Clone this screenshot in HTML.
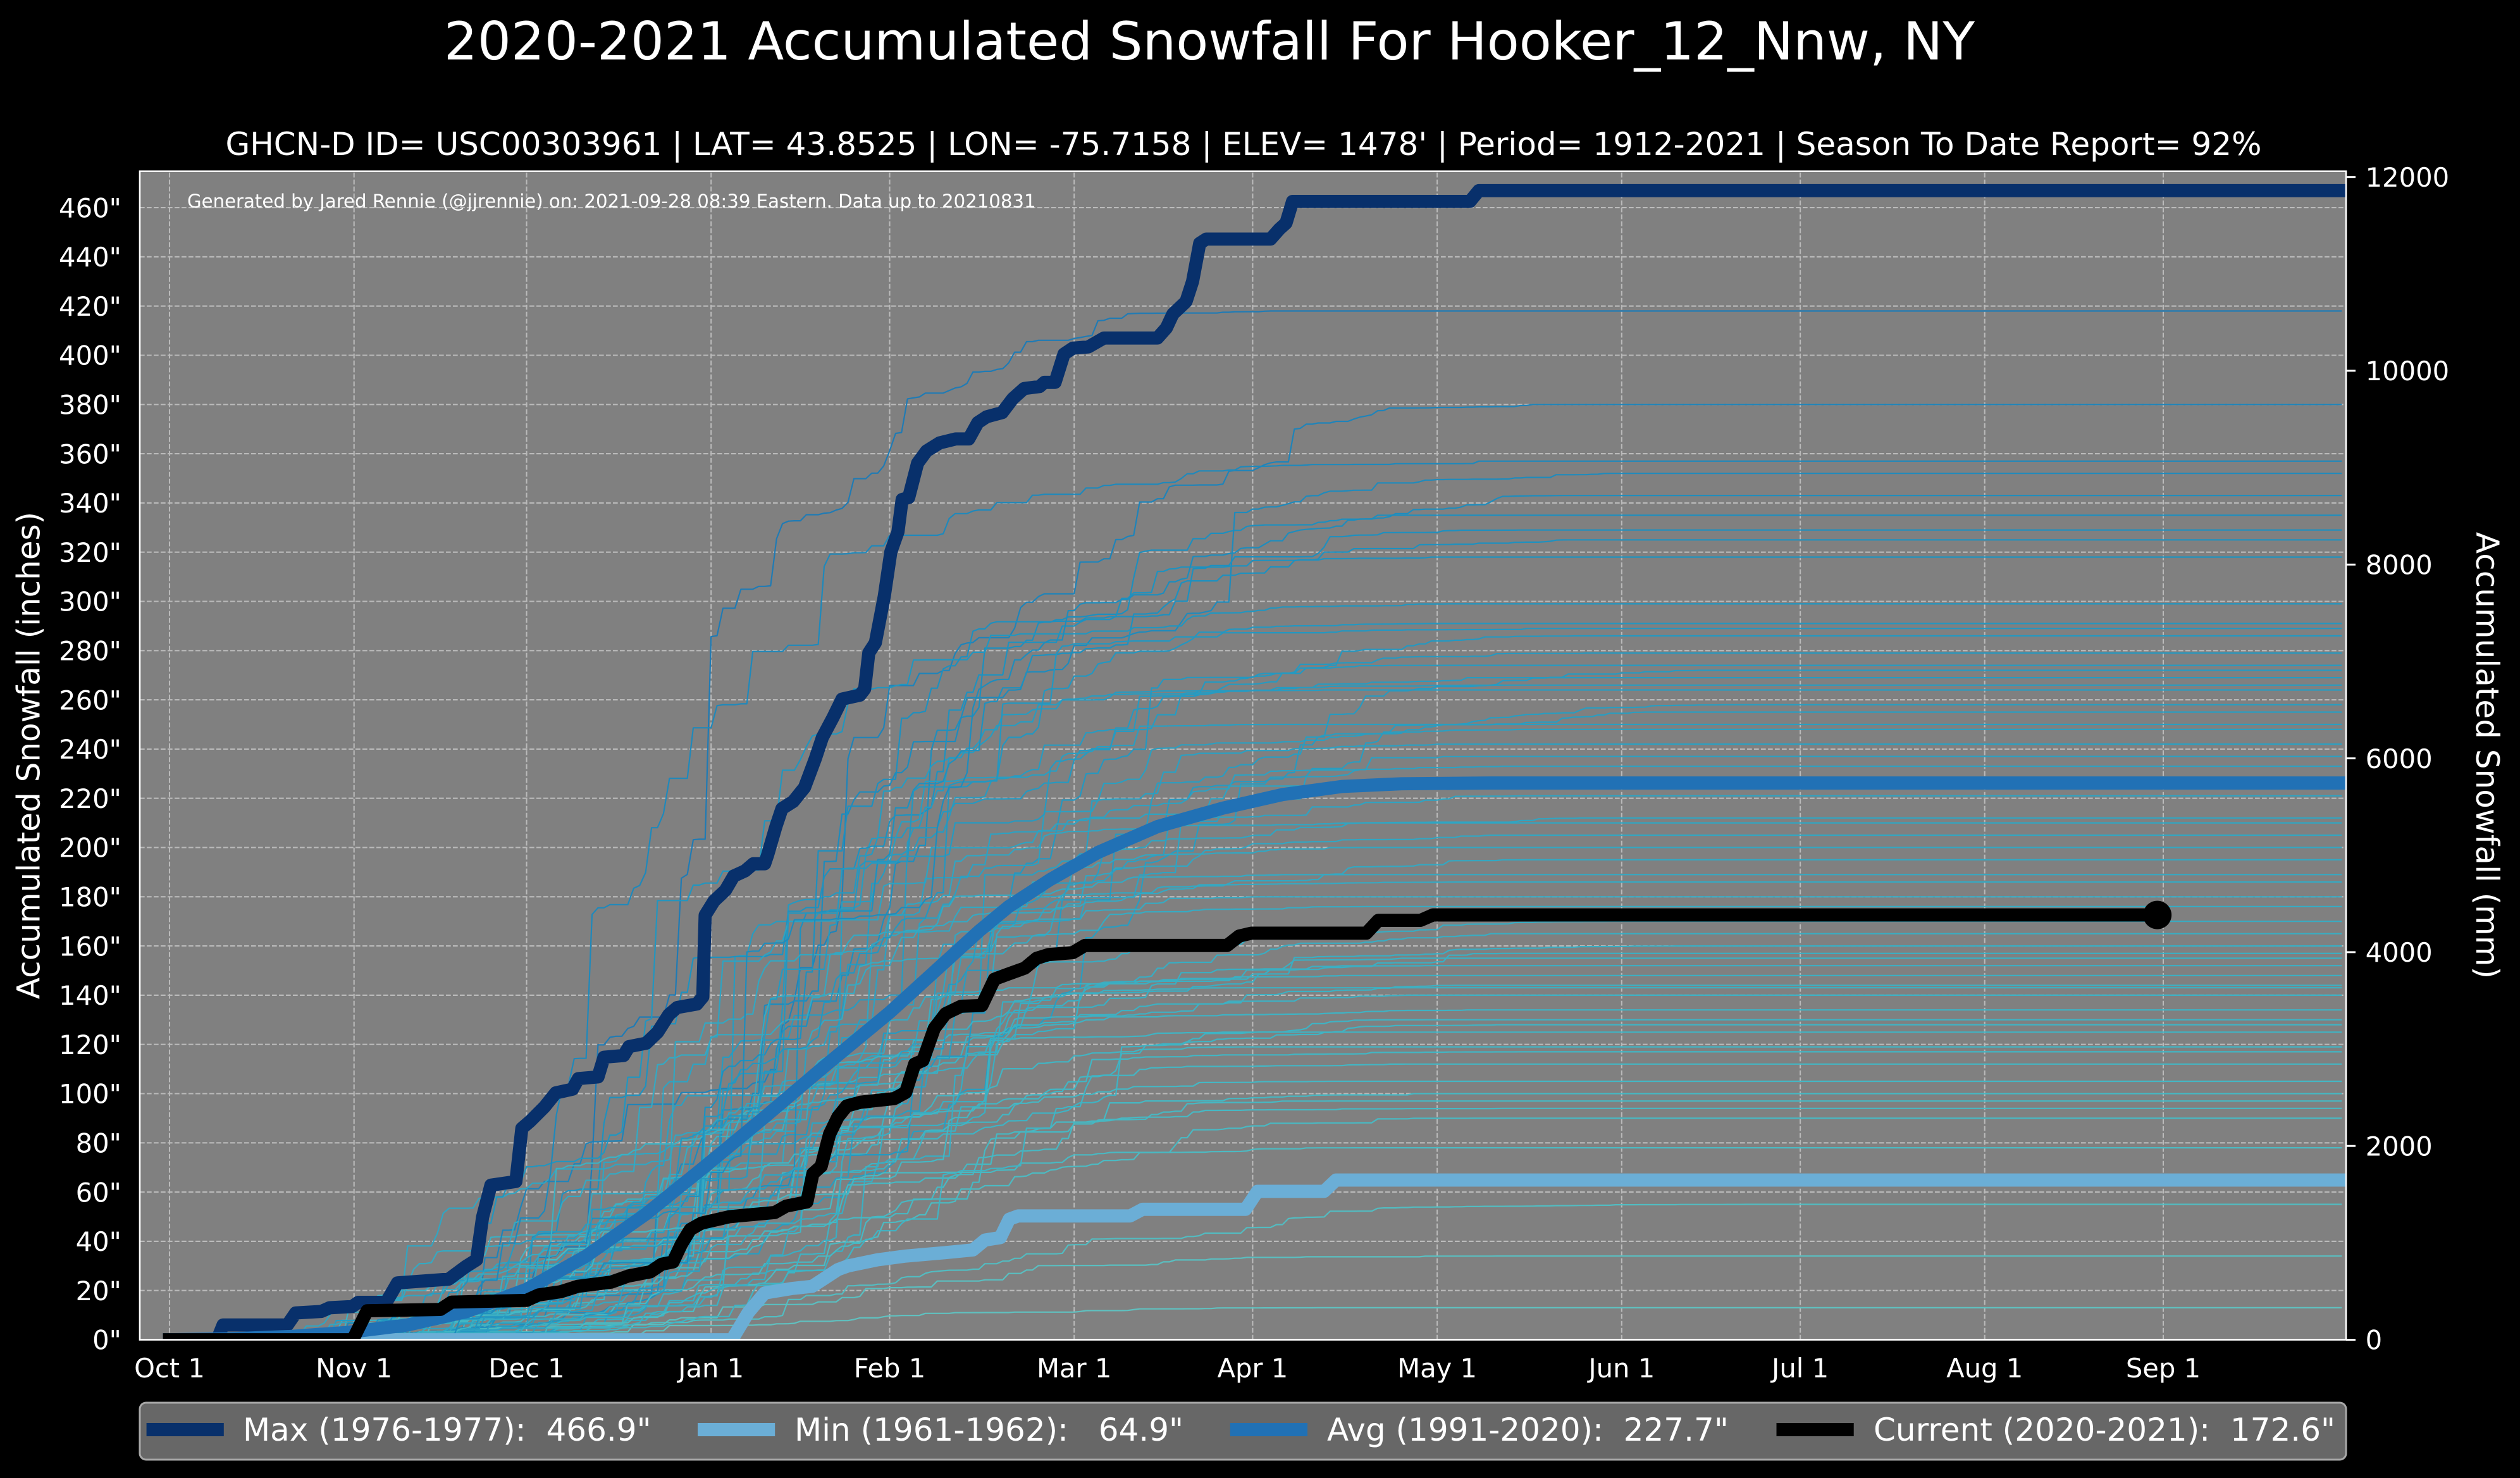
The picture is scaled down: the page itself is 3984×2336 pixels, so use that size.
<!DOCTYPE html>
<html>
<head>
<meta charset="utf-8">
<style>
html,body{margin:0;padding:0;background:#000;}
svg{display:block;}
text{font-family:"DejaVu Sans","Liberation Sans",sans-serif;fill:#ffffff;}
.pre{white-space:pre;}
</style>
</head>
<body>
<svg id="s" width="3984" height="2336" viewBox="0 0 3984 2336">
<defs>
<clipPath id="ax"><rect x="221" y="270.7" width="3488" height="1846.8"/></clipPath>
</defs>
<rect x="0" y="0" width="3984" height="2336" fill="#000"/>

<!-- Title & subtitle -->
<text x="1912" y="94" font-size="83.3" text-anchor="middle">2020-2021 Accumulated Snowfall For Hooker_12_Nnw, NY</text>
<text x="1966" y="245" font-size="50" text-anchor="middle">GHCN-D ID= USC00303961 | LAT= 43.8525 | LON= -75.7158 | ELEV= 1478' | Period= 1912-2021 | Season To Date Report= 92%</text>

<!-- Plot background -->
<rect x="221" y="270.7" width="3488" height="1846.8" fill="#808080"/>

<!-- Grid -->
<g stroke="#bababa" stroke-width="2.08" stroke-dasharray="7.7 3.3" fill="none">
<line x1="221" x2="3709" y1="2039.7" y2="2039.7"/>
<line x1="221" x2="3709" y1="1961.9" y2="1961.9"/>
<line x1="221" x2="3709" y1="1884.1" y2="1884.1"/>
<line x1="221" x2="3709" y1="1806.3" y2="1806.3"/>
<line x1="221" x2="3709" y1="1728.5" y2="1728.5"/>
<line x1="221" x2="3709" y1="1650.7" y2="1650.7"/>
<line x1="221" x2="3709" y1="1572.9" y2="1572.9"/>
<line x1="221" x2="3709" y1="1495.1" y2="1495.1"/>
<line x1="221" x2="3709" y1="1417.3" y2="1417.3"/>
<line x1="221" x2="3709" y1="1339.5" y2="1339.5"/>
<line x1="221" x2="3709" y1="1261.7" y2="1261.7"/>
<line x1="221" x2="3709" y1="1183.9" y2="1183.9"/>
<line x1="221" x2="3709" y1="1106.1" y2="1106.1"/>
<line x1="221" x2="3709" y1="1028.3" y2="1028.3"/>
<line x1="221" x2="3709" y1="950.5" y2="950.5"/>
<line x1="221" x2="3709" y1="872.7" y2="872.7"/>
<line x1="221" x2="3709" y1="794.9" y2="794.9"/>
<line x1="221" x2="3709" y1="717.1" y2="717.1"/>
<line x1="221" x2="3709" y1="639.3" y2="639.3"/>
<line x1="221" x2="3709" y1="561.5" y2="561.5"/>
<line x1="221" x2="3709" y1="483.7" y2="483.7"/>
<line x1="221" x2="3709" y1="405.9" y2="405.9"/>
<line x1="221" x2="3709" y1="328.1" y2="328.1"/>
<line y1="2117.5" y2="270.7" x1="268" x2="268"/>
<line y1="2117.5" y2="270.7" x1="559.7" x2="559.7"/>
<line y1="2117.5" y2="270.7" x1="832.5" x2="832.5"/>
<line y1="2117.5" y2="270.7" x1="1124.2" x2="1124.2"/>
<line y1="2117.5" y2="270.7" x1="1406.5" x2="1406.5"/>
<line y1="2117.5" y2="270.7" x1="1698.2" x2="1698.2"/>
<line y1="2117.5" y2="270.7" x1="1980.4" x2="1980.4"/>
<line y1="2117.5" y2="270.7" x1="2272.1" x2="2272.1"/>
<line y1="2117.5" y2="270.7" x1="2563.8" x2="2563.8"/>
<line y1="2117.5" y2="270.7" x1="2846.1" x2="2846.1"/>
<line y1="2117.5" y2="270.7" x1="3137.7" x2="3137.7"/>
<line y1="2117.5" y2="270.7" x1="3420" x2="3420"/>
</g>

<!-- Series -->
<g clip-path="url(#ax)">
<g id="thin" fill="none" stroke-width="2.2" stroke-linejoin="round"></g>
<g transform="translate(268,2117.5) scale(9.409,-3.89)" fill="none" stroke-linejoin="round" stroke-linecap="square">
<polyline vector-effect="non-scaling-stroke" stroke="#08306b" stroke-width="20.8" points="0,0 8,0 9,6 19.8,6 21.2,10.9 25.5,11.5 26.9,13 30.7,13.5 31.7,15.2 36.4,15.2 38.3,23.1 46.9,24.6 49.7,29.6 51.6,32.5 52.6,49.8 54,62.8 58.2,64.3 59.2,85.9 60.6,88.8 63,94.6 64.9,100.3 67.7,101.8 68.7,106.1 72,106.8 73,114.8 76.3,115.5 77.2,119.1 80.1,120.5 82,124.9 83.9,132.1 85.3,135 88.6,136.4 89.6,139.3 90,172.5 91.5,178.3 93.4,182.6 94.8,188.4 96.7,190.5 98.1,193.4 100,193.4 100.5,197 101.9,208.6 102.9,215.8 104.8,218.7 106.7,224.4 108.5,236 109.7,244.7 111.5,252.9 113,260.3 116,261.9 116.8,264.4 117.5,279.1 118.6,283.2 120.1,302.1 121.2,320.1 122.4,328.3 123.1,341.4 124.2,342.2 125.7,356.2 127.2,361.1 129.4,364.4 132.1,366 134.3,366 135.8,372.6 137.3,375 139.9,376.7 141.7,382.4 143.6,386.5 146.2,387.3 147,389 148.8,389 150.3,400.5 151.8,402.9 154.4,403.4 157,407 166,407 167.5,411.1 168.6,416.8 170.8,421.8 171.9,430 173.1,445.5 174.2,447.2 185,447.2 186.5,451.3 187.6,453.7 188.7,462.5 218.5,462.5 220,466.9 372,466.9"/>
<polyline vector-effect="non-scaling-stroke" stroke="#6baed6" stroke-width="20.8" points="0,0 94.5,0 97.2,10.9 100,19 104.5,20.8 108,21.7 112.3,28.5 114,30 119,32.5 123.7,34 130.4,35.4 135,36.5 137,40.5 139.6,41.5 141.1,49 142.6,50.3 161.4,50.3 163.5,53 180.8,53 182.8,60.3 194,60.3 196,64.9 372,64.9"/>
<polyline vector-effect="non-scaling-stroke" stroke="#2171b5" stroke-width="20.8" points="0,0 10,0.4 20,1.3 30,3 40,6 50,11.5 60,20.5 70,34 80,51 90,70.5 100,90.5 110,111 121,133 131,155 136,166 141,176 148,187 156,198 166,208.5 177,216 187,221.5 197,224.8 207,225.9 222,226.2 372,226.2"/>
<polyline vector-effect="non-scaling-stroke" stroke="#000000" stroke-width="20.8" points="0,0 30.8,0 33.2,11.8 45.5,12.3 47.4,15.3 60,16 62,18.2 65.7,19.5 68.6,21.7 74.2,23.4 77.1,25.9 80.8,27.6 82.7,30.7 84.6,31.6 86,38.8 87.5,44.8 89.4,47.4 94.1,50 101.7,51.7 103.6,54.3 107.1,56 108.1,67.5 109.5,70.5 110.9,83.5 112.3,90.5 113.8,95 116.1,96.5 121.8,98 123.7,100.5 125.2,112 126.6,113.5 128.5,126.5 130.4,132.5 133,135.5 136.5,135.8 138.6,146.5 140.6,148.3 143.7,151 145.7,155 147.7,156.5 151.8,157.3 153.8,160.2 177.7,160.2 179.7,164 181.8,165.2 201.1,165.2 203.1,170.4 210.2,170.4 212.3,172.6 334,172.6"/>
</g>
<circle cx="3410.6" cy="1446.1" r="22.5" fill="#000"/>
</g>

<!-- Generated text -->
<text x="296" y="328" font-size="29.2" class="pre">Generated by Jared Rennie (@jjrennie) on: 2021-09-28 08:39 Eastern. Data up to 20210831</text>

<!-- Spines -->
<rect x="221" y="270.7" width="3488" height="1846.8" fill="none" stroke="#ffffff" stroke-width="2.6"/>

<!-- Left y tick labels -->
<g font-size="41.7" text-anchor="end">
<text x="191.8" y="2132.7">0"</text>
<text x="191.8" y="2054.9">20"</text>
<text x="191.8" y="1977.1">40"</text>
<text x="191.8" y="1899.3">60"</text>
<text x="191.8" y="1821.5">80"</text>
<text x="191.8" y="1743.7">100"</text>
<text x="191.8" y="1665.9">120"</text>
<text x="191.8" y="1588.1">140"</text>
<text x="191.8" y="1510.3">160"</text>
<text x="191.8" y="1432.5">180"</text>
<text x="191.8" y="1354.7">200"</text>
<text x="191.8" y="1276.9">220"</text>
<text x="191.8" y="1199.1">240"</text>
<text x="191.8" y="1121.3">260"</text>
<text x="191.8" y="1043.5">280"</text>
<text x="191.8" y="965.7">300"</text>
<text x="191.8" y="887.9">320"</text>
<text x="191.8" y="810.1">340"</text>
<text x="191.8" y="732.3">360"</text>
<text x="191.8" y="654.5">380"</text>
<text x="191.8" y="576.7">400"</text>
<text x="191.8" y="498.9">420"</text>
<text x="191.8" y="421.1">440"</text>
<text x="191.8" y="343.3">460"</text>
</g>

<!-- X tick labels -->
<g font-size="41.7" text-anchor="middle">
<text x="268" y="2177">Oct 1</text>
<text x="559.7" y="2177">Nov 1</text>
<text x="832.5" y="2177">Dec 1</text>
<text x="1124.2" y="2177">Jan 1</text>
<text x="1406.5" y="2177">Feb 1</text>
<text x="1698.2" y="2177">Mar 1</text>
<text x="1980.4" y="2177">Apr 1</text>
<text x="2272.1" y="2177">May 1</text>
<text x="2563.8" y="2177">Jun 1</text>
<text x="2846.1" y="2177">Jul 1</text>
<text x="3137.7" y="2177">Aug 1</text>
<text x="3420" y="2177">Sep 1</text>
</g>

<!-- Right axis ticks and labels -->
<g stroke="#ffffff" stroke-width="3">
<line x1="3709" x2="3724" y1="2117.5" y2="2117.5"/>
<line x1="3709" x2="3724" y1="1811.2" y2="1811.2"/>
<line x1="3709" x2="3724" y1="1504.9" y2="1504.9"/>
<line x1="3709" x2="3724" y1="1198.6" y2="1198.6"/>
<line x1="3709" x2="3724" y1="892.3" y2="892.3"/>
<line x1="3709" x2="3724" y1="586" y2="586"/>
<line x1="3709" x2="3724" y1="279.7" y2="279.7"/>
</g>
<g font-size="41.7">
<text x="3739.6" y="2132.7">0</text>
<text x="3739.6" y="1826.4">2000</text>
<text x="3739.6" y="1520.1">4000</text>
<text x="3739.6" y="1213.8">6000</text>
<text x="3739.6" y="907.5">8000</text>
<text x="3739.6" y="601.2">10000</text>
<text x="3739.6" y="294.9">12000</text>
</g>

<!-- Axis labels -->
<text transform="translate(62.7,1194) rotate(-90)" font-size="50" text-anchor="middle">Accumulated Snowfall (inches)</text>
<text transform="translate(3915,1194) rotate(90)" font-size="50" text-anchor="middle">Accumulated Snowfall (mm)</text>

<!-- Legend -->
<rect x="221" y="2217" width="3488" height="90" rx="10" ry="10" fill="#676767" stroke="#a8a8a8" stroke-width="3"/>
<rect x="231.6" y="2249" width="122.2" height="21" fill="#08306b"/>
<rect x="1103" y="2249" width="122.2" height="21" fill="#6baed6"/>
<rect x="1944.8" y="2249" width="122.2" height="21" fill="#2171b5"/>
<rect x="2808.5" y="2249" width="122.2" height="21" fill="#000000"/>
<g font-size="50">
<text x="384" y="2277" class="pre" xml:space="preserve">Max (1976-1977):  466.9"</text>
<text x="1256" y="2277" class="pre" xml:space="preserve">Min (1961-1962):   64.9"</text>
<text x="2098" y="2277" class="pre" xml:space="preserve">Avg (1991-2020):  227.7"</text>
<text x="2962" y="2277" class="pre" xml:space="preserve">Current (2020-2021):  172.6"</text>
</g>
</svg>

<script>
(function(){
var T=[418,380,357,352,343,335,329,325,318,299,291,289,286,279,274,272,269,266,264,258,255,250,248,242,237,233,225,221,212,210,205,200,195,189,186,180,176,170,165,160,157,155,152,148,144,143,140,134,130,128,125,119,117,112,105,100,97,94,90,78,55,34,13];
var s=987654321;
function r(){s=(Math.imul(s,1664525)+1013904223)>>>0;return s/4294967296;}
var st=[[255,255,217],[237,248,177],[199,233,180],[127,205,187],[65,182,196],[29,145,192],[34,94,168],[37,52,148],[8,29,88]];
function cm(p){var x=p*8,i=Math.min(7,Math.floor(x)),f=x-i,a=st[i],b=st[i+1];
 return 'rgb('+Math.round(a[0]+(b[0]-a[0])*f)+','+Math.round(a[1]+(b[1]-a[1])*f)+','+Math.round(a[2]+(b[2]-a[2])*f)+')';}
var idx=[];for(var i=0;i<T.length;i++)idx.push(i);
for(var i=idx.length-1;i>0;i--){var j=Math.floor(r()*(i+1));var t=idx[i];idx[i]=idx[j];idx[j]=t;}
var g=document.getElementById('thin');
var html='';
for(var n=0;n<idx.length;n++){
 var tot=T[idx[n]];
 var c=105+(r()-0.5)*44, sl=38*(0.75+r()*0.5), sr=36*(0.75+r()*0.55), st0=8+r()*40, pr=0.35+r()*0.25;
 var raw=[],sum=0;
 for(var d=0;d<=365;d++){
  var a=0;
  if(d>=st0 && r()<pr){
   var z=(d-c)/(d<c?sl:sr), w=Math.exp(-0.5*z*z);
   if(w>0.01) a=w*Math.pow(-Math.log(1-r()),1.7);
  }
  raw.push(a); sum+=a;
 }
 if(sum<=0){sum=1;raw[100]=1;}
 var cum=0,pts=[];
 for(var d=0;d<=365;d++){cum+=raw[d];var v=cum/sum*tot;pts.push((268+9.409*d).toFixed(1)+','+(2117.5-3.89*v).toFixed(1));}
 html+='<polyline points="'+pts.join(' ')+'" stroke="'+cm(0.44+0.24*(tot-13)/405)+'"/>';
}
g.innerHTML=html;
})();
</script>
</body>
</html>
